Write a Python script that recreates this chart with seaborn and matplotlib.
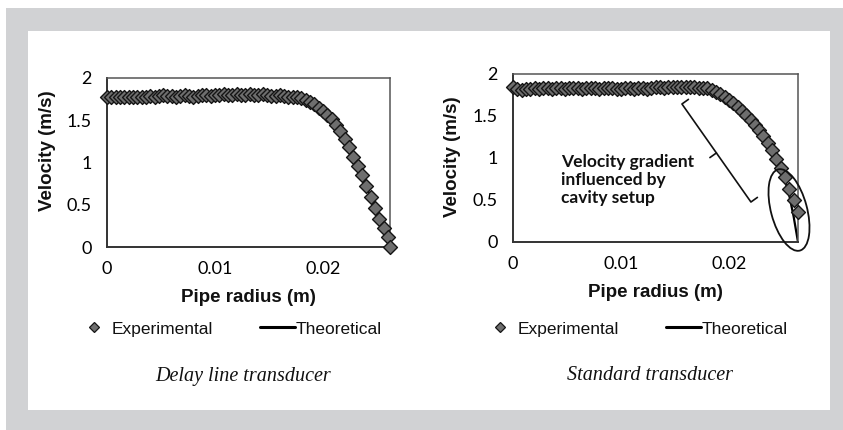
import matplotlib
matplotlib.use("Agg")
import matplotlib.pyplot as plt
from matplotlib.patches import Rectangle, Ellipse
from matplotlib.lines import Line2D
from matplotlib.transforms import IdentityTransform
import pandas as pd
import seaborn as sns

# ===== DATA =====
left_radius = [0.0000, 0.0004, 0.0008, 0.0012, 0.0016, 0.0020, 0.0024, 0.0028, 0.0032, 0.0036,
               0.0040, 0.0044, 0.0048, 0.0052, 0.0056, 0.0060, 0.0064, 0.0068, 0.0072, 0.0076,
               0.0080, 0.0084, 0.0088, 0.0092, 0.0096, 0.0100, 0.0104, 0.0108, 0.0112, 0.0116,
               0.0120, 0.0124, 0.0128, 0.0132, 0.0136, 0.0140, 0.0144, 0.0148, 0.0152, 0.0156,
               0.0160, 0.0164, 0.0168, 0.0172, 0.0176, 0.0180, 0.0184, 0.0188, 0.0192, 0.0196,
               0.0200, 0.0204, 0.0208, 0.0212, 0.0216, 0.0220, 0.0224, 0.0228, 0.0232, 0.0236,
               0.0240, 0.0244, 0.0248, 0.0252, 0.0256, 0.0260, 0.0262]
left_velocity = [1.78, 1.77, 1.77, 1.78, 1.77, 1.78, 1.78, 1.77, 1.78, 1.78,
                 1.79, 1.78, 1.79, 1.80, 1.79, 1.79, 1.78, 1.79, 1.80, 1.79,
                 1.78, 1.79, 1.80, 1.80, 1.79, 1.80, 1.80, 1.81, 1.80, 1.80,
                 1.81, 1.80, 1.80, 1.81, 1.80, 1.80, 1.81, 1.80, 1.79, 1.79,
                 1.80, 1.79, 1.78, 1.78, 1.77, 1.76, 1.74, 1.72, 1.69, 1.65,
                 1.61, 1.56, 1.51, 1.44, 1.37, 1.28, 1.18, 1.07, 0.96, 0.85,
                 0.72, 0.59, 0.46, 0.33, 0.22, 0.12, 0.00]

right_radius = [0.0000, 0.0004, 0.0008, 0.0012, 0.0016, 0.0020, 0.0024, 0.0028, 0.0032, 0.0036,
                0.0040, 0.0044, 0.0048, 0.0052, 0.0056, 0.0060, 0.0064, 0.0068, 0.0072, 0.0076,
                0.0080, 0.0084, 0.0088, 0.0092, 0.0096, 0.0100, 0.0104, 0.0108, 0.0112, 0.0116,
                0.0120, 0.0124, 0.0128, 0.0132, 0.0136, 0.0140, 0.0144, 0.0148, 0.0152, 0.0156,
                0.0160, 0.0164, 0.0168, 0.0172, 0.0176, 0.0180, 0.0184, 0.0188, 0.0192, 0.0196,
                0.0200, 0.0204, 0.0208, 0.0212, 0.0216, 0.0220, 0.0224, 0.0228, 0.0232, 0.0236,
                0.0240, 0.0244, 0.0248, 0.0252, 0.0256, 0.0260, 0.0264]
right_velocity = [1.84, 1.82, 1.81, 1.82, 1.82, 1.83, 1.82, 1.83, 1.83, 1.82,
                  1.83, 1.83, 1.82, 1.83, 1.83, 1.83, 1.82, 1.83, 1.83, 1.83,
                  1.82, 1.83, 1.83, 1.83, 1.82, 1.82, 1.83, 1.83, 1.82, 1.83,
                  1.83, 1.82, 1.83, 1.84, 1.84, 1.83, 1.84, 1.84, 1.85, 1.85,
                  1.84, 1.84, 1.84, 1.83, 1.83, 1.83, 1.81, 1.79, 1.76, 1.73,
                  1.69, 1.65, 1.61, 1.56, 1.51, 1.45, 1.39, 1.33, 1.26, 1.18,
                  1.09, 0.99, 0.88, 0.77, 0.63, 0.50, 0.36]

# theoretical profiles (left one sits under the markers)
left_theory_radius = [0.0, 0.0172, 0.0188, 0.0200, 0.0212, 0.0224, 0.0236, 0.0248, 0.0262]
left_theory_velocity = [1.78, 1.78, 1.72, 1.61, 1.44, 1.18, 0.85, 0.46, 0.0]
right_theory_radius = [0.0, 0.0180, 0.0200, 0.0220, 0.0240, 0.0250, 0.0256, 0.0260, 0.0264]
right_theory_velocity = [1.83, 1.83, 1.69, 1.45, 1.09, 0.82, 0.55, 0.30, 0.0]

x_ticks = [0, 0.01, 0.02]
x_tick_labels = ["0", "0.01", "0.02"]
y_ticks = [0, 0.5, 1, 1.5, 2]
y_tick_labels = ["0", "0.5", "1", "1.5", "2"]

captions = ["Delay line transducer", "Standard transducer"]
annotation_text = "Velocity gradient\ninfluenced by\ncavity setup"

# ===== STYLE =====
sns.set_style("white")
plt.rcParams["font.family"] = ["Liberation Sans", "DejaVu Sans"]

marker_face = "#6e6e6e"
marker_edge = "#151515"
tick_font = ["Lato", "DejaVu Sans"]
label_font = ["Liberation Sans", "DejaVu Sans"]

W, H = 843, 430
fig = plt.figure(figsize=(W / 100, H / 100), dpi=100)

# gray frame + white panel
fig.patches.append(Rectangle((6 / W, 0), 1 - 6 / W, 1 - 8 / H, transform=fig.transFigure,
                             facecolor="#d1d2d4", edgecolor="none", zorder=-20))
fig.patches.append(Rectangle((28 / W, 20 / H), (830 - 28) / W, (410 - 31) / H,
                             transform=fig.transFigure, facecolor="white",
                             edgecolor="none", zorder=-19))


def px_axes(x0, y0, x1, y1):
    return fig.add_axes([x0 / W, 1 - y1 / H, (x1 - x0) / W, (y1 - y0) / H])


ax_left = px_axes(107, 78, 390, 247)
ax_right = px_axes(513, 74, 798, 242)

panels = [
    (ax_left, left_radius, left_velocity, left_theory_radius, left_theory_velocity, 0.0262, 0.568),
    (ax_right, right_radius, right_velocity, right_theory_radius, right_theory_velocity, 0.0264, 0.506),
]

for ax, r, v, tr, tv, xmax, ylab_y in panels:
    ax.patch.set_alpha(0)
    df = pd.DataFrame({"radius": r, "velocity": v})
    sns.lineplot(x=tr, y=tv, color="black", linewidth=1.6, ax=ax, zorder=2,
                 estimator=None, sort=False)
    sns.scatterplot(data=df, x="radius", y="velocity", marker="D", s=50,
                    color=marker_face, edgecolor=marker_edge, linewidth=1.0,
                    ax=ax, zorder=3, clip_on=False)

    ax.set_xlim(0, xmax)
    ax.set_ylim(0, 2)
    ax.set_xticks(x_ticks)
    ax.set_xticklabels(x_tick_labels, fontsize=13, family=tick_font)
    ax.set_yticks(y_ticks)
    ax.set_yticklabels(y_tick_labels, fontsize=13, family=tick_font)
    ax.tick_params(axis="both", direction="out", length=3, width=0.8,
                   color="#666666", labelcolor="black")
    ax.tick_params(axis="x", pad=7)
    ax.tick_params(axis="y", pad=8)

    for side in ["top", "right"]:
        ax.spines[side].set_color("#555555")
        ax.spines[side].set_linewidth(1.1)
    for side in ["left", "bottom"]:
        ax.spines[side].set_color("#333333")
        ax.spines[side].set_linewidth(1.4)

    ax.set_xlabel("Pipe radius (m)", fontsize=13.5, fontweight="bold", family=label_font,
                  color="#111111")
    ax.set_ylabel("Velocity (m/s)", fontsize=13.5, fontweight="bold", family=label_font,
                  color="#111111")
    ax.xaxis.set_label_coords(0.5, -0.30)
    ax.yaxis.set_label_coords(-0.212, ylab_y)
    ax.xaxis.label.set_va("center")
    ax.yaxis.label.set_va("center")

    handles = [
        Line2D([], [], marker="D", linestyle="none", markersize=5,
               markerfacecolor=marker_face, markeredgecolor=marker_edge,
               markeredgewidth=0.9),
        Line2D([], [], color="black", linewidth=2.2),
    ]
    ax.legend(handles, ["Experimental", "Theoretical"], loc="center",
              bbox_to_anchor=(0.5, 0.5), ncol=2, frameon=False,
              prop={"family": ["Liberation Sans", "DejaVu Sans"], "size": 12.5},
              handlelength=2.0, handletextpad=0.05, columnspacing=2.7,
              labelcolor="#111111")

# move legends to figure positions
for ax, cx in [(ax_left, 229), (ax_right, 635)]:
    leg = ax.get_legend()
    leg.set_bbox_to_anchor((cx / W, 1 - 329 / H), transform=fig.transFigure)

# captions
for cx, text in zip([243, 650], captions):
    fig.text(cx / W, 1 - 376 / H, text, ha="center", va="center", fontsize=14.5,
             style="italic", family=["Liberation Serif", "DejaVu Serif"], color="#111111")

# annotation on right panel
ax_right.text(0.00444, 0.74, annotation_text, ha="left", va="center", fontsize=12.5,
              fontweight="bold", family=["Lato", "DejaVu Sans"], linespacing=1.15,
              color="#111111")

# bracket (in data coordinates of the right panel)
bracket_x = [0.01625, 0.01565, 0.02204, 0.02264]
bracket_y = [1.698, 1.643, 0.476, 0.531]
ax_right.plot(bracket_x, bracket_y, color="#111111", linewidth=1.2, zorder=4)
ax_right.plot([0.01884, 0.01824], [1.060, 1.005], color="#111111", linewidth=1.2, zorder=4)

# ellipse around the wall region (pixel coordinates)
fig.patches.append(Ellipse((789, H - 210), 36, 84, angle=15, transform=IdentityTransform(),
                           facecolor="none", edgecolor="#111111", linewidth=1.3, zorder=5))

fig.savefig("out.png", dpi=100)
